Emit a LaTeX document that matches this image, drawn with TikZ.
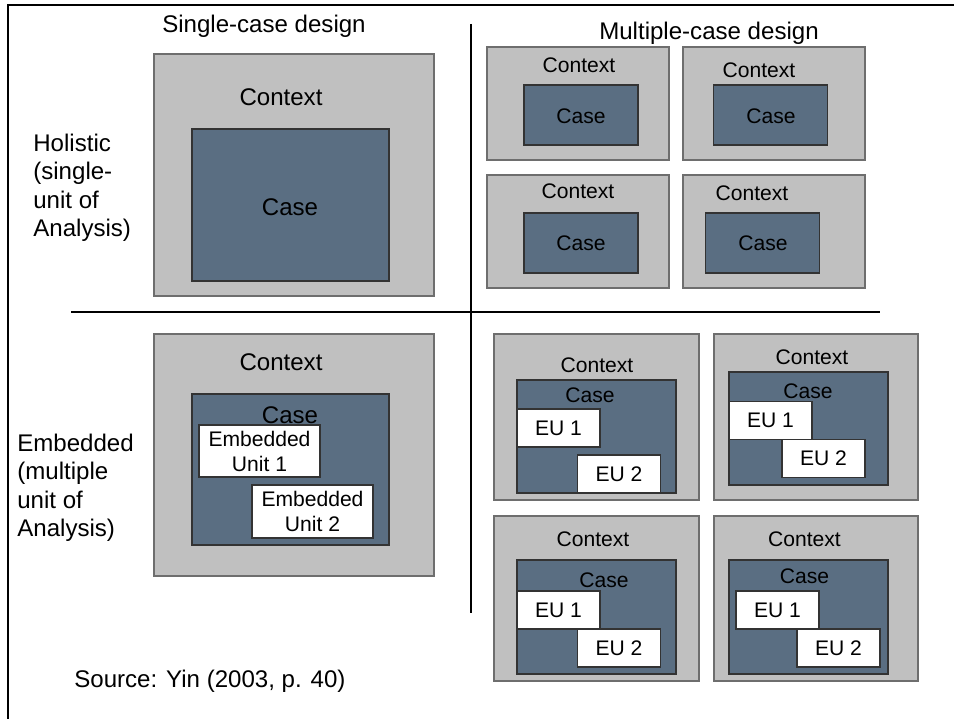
\documentclass[tikz,border=0pt]{standalone}
\usepackage{fontspec}
\setmainfont{Liberation Sans}
\usepackage{xcolor}
\usepackage{tikz}

\definecolor{ctxgrey}{HTML}{C0C0C0}
\definecolor{caseblue}{HTML}{5A6E82}
\definecolor{edgegrey}{HTML}{6E6E6E}

\tikzset{
    sz/.style 2 args={minimum width=#1*0.02cm, minimum height=#2*0.02cm}
}

\begin{document}
\begin{tikzpicture}[
    x=0.02cm, y=-0.02cm,
    ctx/.style={draw=edgegrey, fill=ctxgrey, line width=0.6pt, inner sep=0pt},
    casebox/.style={draw=black!80, fill=caseblue, line width=0.6pt, inner sep=0pt},
    unit/.style={draw=black!80, fill=white, line width=0.6pt, inner sep=0pt, align=center, font=\fontsize{12}{14.2}\selectfont},
    eu/.style={unit, sz={83}{38}, text height=0.3cm, text depth=0pt},
    big/.style={inner sep=0pt, font=\fontsize{13.7}{15.9}\selectfont, text height=0.34cm, text depth=0pt},
    small/.style={inner sep=0pt, font=\fontsize{12}{14.2}\selectfont, text height=0.3cm, text depth=0pt},
    side/.style={inner sep=0pt, anchor=west, align=left, font=\fontsize{13.7}{16.2}\selectfont},
    rule/.style={line width=1.35pt}
]
\useasboundingbox (0,0) rectangle (954,719);

% frame and dividers
\coordinate (fa) at (8,719);
\coordinate (fb) at (8,5);
\coordinate (fc) at (954,5);
\draw[line width=1.45pt] (fa) -- (fb) -- (fc);
\coordinate (vt) at (471,24);
\coordinate (vb) at (471,613);
\coordinate (hl) at (71,312);
\coordinate (hr) at (880,312);
\draw[rule] (vt) -- (vb);
\draw[rule] (hl) -- (hr);

% headings
\node[big] (single) at (264,24) {Single-case design};
\node[big] (multi) at (709,31) {Multiple-case design};
\node[side] (holistic) at (33,188) {Holistic\\(single-\\unit of\\Analysis)};
\node[side] (embedded) at (17,488) {Embedded\\(multiple\\unit of\\Analysis)};
\node[big, anchor=west] (source) at (74,679) {Source: Yin (2003, p. 40)};

% single case, holistic
\node[ctx, sz={280}{242}] (ctxA) at (294,175) {};
\node[big] (ctxAl) at (281,97) {Context};
\node[casebox, sz={197}{152}] (caseA) at (290.5,205) {};
\node[big] (caseAl) at (290,207) {Case};

% multiple case, holistic
\node[ctx, sz={182}{113}] (ctxB1) at (578,103.5) {};
\node[small] (ctxB1l) at (579,65) {Context};
\node[casebox, sz={114}{60}] (caseB1) at (581,115) {};
\node[small] (caseB1l) at (581,116) {Case};

\node[ctx, sz={182}{113}] (ctxB2) at (774,103.5) {};
\node[small] (ctxB2l) at (759,70) {Context};
\node[casebox, sz={114}{60}] (caseB2) at (770.5,115) {};
\node[small] (caseB2l) at (771,116) {Case};

\node[ctx, sz={182}{113}] (ctxB3) at (578,231.5) {};
\node[small] (ctxB3l) at (578,191) {Context};
\node[casebox, sz={114}{60}] (caseB3) at (581,243) {};
\node[small] (caseB3l) at (581,243) {Case};

\node[ctx, sz={182}{113}] (ctxB4) at (774,231.5) {};
\node[small] (ctxB4l) at (752,193) {Context};
\node[casebox, sz={114}{60}] (caseB4) at (762.5,243) {};
\node[small] (caseB4l) at (763,243) {Case};

% single case, embedded
\node[ctx, sz={280}{242}] (ctxC) at (294,455) {};
\node[big] (ctxCl) at (281,362) {Context};
\node[casebox, sz={197}{151}] (caseC) at (290.5,469.5) {};
\node[big] (caseCl) at (290,415) {Case};
\node[unit, sz={121}{52}] (unitC1) at (259.5,451) {Embedded\\Unit 1};
\node[unit, sz={121}{53}] (unitC2) at (312.5,511.5) {Embedded\\Unit 2};

% multiple case, embedded
\node[ctx, sz={205}{166}] (ctxD1) at (596.5,417) {};
\node[small] (ctxD1l) at (597,365) {Context};
\node[casebox, sz={159}{113}] (caseD1) at (596.5,436.5) {};
\node[small] (caseD1l) at (590,395) {Case};
\node[eu] (euD1a) at (558.5,428) {EU 1};
\node[eu] (euD1b) at (619,474) {EU 2};

\node[ctx, sz={204}{166}] (ctxD2) at (816,417) {};
\node[small] (ctxD2l) at (812,357) {Context};
\node[casebox, sz={159}{113}] (caseD2) at (808.5,428.5) {};
\node[small] (caseD2l) at (808,391) {Case};
\node[eu] (euD2a) at (770.5,420.5) {EU 1};
\node[eu] (euD2b) at (823.5,458.5) {EU 2};

\node[ctx, sz={205}{165}] (ctxD3) at (596.5,598.5) {};
\node[small] (ctxD3l) at (593,539) {Context};
\node[casebox, sz={159}{114}] (caseD3) at (596.5,617) {};
\node[small] (caseD3l) at (604,580) {Case};
\node[eu] (euD3a) at (558.5,610) {EU 1};
\node[eu] (euD3b) at (619,648) {EU 2};

\node[ctx, sz={204}{165}] (ctxD4) at (816,598.5) {};
\node[small] (ctxD4l) at (804.5,539) {Context};
\node[casebox, sz={159}{114}] (caseD4) at (808.5,617) {};
\node[small] (caseD4l) at (804.5,576) {Case};
\node[eu] (euD4a) at (777.5,610) {EU 1};
\node[eu] (euD4b) at (838.5,648) {EU 2};
\end{tikzpicture}
\end{document}
